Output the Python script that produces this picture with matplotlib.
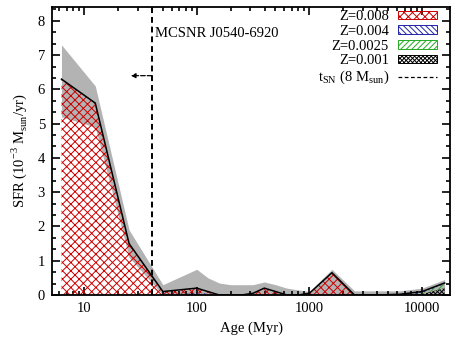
import numpy as np
import matplotlib
matplotlib.use('Agg')
import matplotlib.pyplot as plt
from matplotlib.patches import Patch
from matplotlib.lines import Line2D
from matplotlib.ticker import MultipleLocator, LogLocator, NullFormatter, FixedLocator

plt.rcParams['font.family'] = ['Liberation Serif', 'DejaVu Serif']
plt.rcParams['mathtext.fontset'] = 'custom'
plt.rcParams['mathtext.rm'] = 'Liberation Serif'
plt.rcParams['hatch.linewidth'] = 0.7

# log(age/yr) bins
log_age = [6.8, 7.1, 7.4, 7.7, 8.0, 8.1, 8.2, 8.3, 8.4, 8.5, 8.6, 8.7, 8.8, 8.9,
           9.0, 9.2, 9.4, 9.6, 9.8, 10.0, 10.2]
# SFR per metallicity (10^-3 Msun/yr)
z008 = [6.3, 5.6, 1.5, 0.08, 0.15, 0.05, 0, 0, 0, 0.03, 0.18, 0.08, 0, 0,
        0.03, 0.65, 0, 0, 0, 0, 0]
z004 = [0, 0, 0, 0.02, 0.05, 0.05, 0, 0, 0, 0.02, 0.02, 0.02, 0, 0,
        0.02, 0, 0, 0, 0.02, 0.05, 0.03]
z0025 = [0, 0, 0, 0, 0, 0, 0, 0, 0, 0, 0, 0, 0, 0,
         0, 0, 0, 0, 0, 0.02, 0.12]
z001 = [0, 0, 0, 0, 0, 0, 0, 0, 0, 0, 0, 0, 0, 0,
        0, 0, 0, 0, 0, 0.03, 0.2]
# error band
sfr_lo = [5.2, 4.9, 1.1, 0, 0, 0, 0, 0, 0, 0, 0, 0, 0, 0,
          0, 0, 0, 0, 0, 0, 0]
sfr_hi = [7.3, 6.1, 1.9, 0.3, 0.75, 0.5, 0.35, 0.3, 0.3, 0.3, 0.38, 0.3, 0.2, 0.15,
          0.1, 0.75, 0.12, 0.12, 0.12, 0.2, 0.45]

t_sn = 40.0   # Myr

age = 10**(np.array(log_age) - 6)
s1 = np.array(z001)
s2 = s1 + np.array(z0025)
s3 = s2 + np.array(z004)
s4 = s3 + np.array(z008)

fig = plt.figure(figsize=(4.53, 3.40), dpi=100)
ax = fig.add_axes([0.1148, 0.1324, 0.8786, 0.8466])

ax.fill_between(age, sfr_lo, sfr_hi, color='#b3b3b3', lw=0, zorder=1)
ax.fill_between(age, 0, s1, facecolor='none', edgecolor='black', hatch='xxxxxxxx', lw=0, zorder=2)
ax.fill_between(age, s1, s2, facecolor='none', edgecolor='#22aa22', hatch='//////', lw=0, zorder=2)
ax.fill_between(age, s2, s3, facecolor='none', edgecolor='#2222aa', hatch='\\\\\\\\\\\\', lw=0, zorder=2)
ax.fill_between(age, s3, s4, facecolor='none', edgecolor='#cc0000', hatch='xxxx', lw=0, zorder=2)
ax.plot(age, s4, color='black', lw=1.1, zorder=3)

ax.axvline(t_sn, color='black', ls=(0, (3, 2)), lw=1.4, zorder=4)
ax.annotate('', xy=(26, 6.4), xytext=(t_sn, 6.4),
            arrowprops=dict(arrowstyle='-|>', ls='--', lw=0.9, color='black',
                            mutation_scale=7, shrinkA=0, shrinkB=0))
ax.text(43, 7.62, 'MCSNR J0540-6920', fontsize=10.5, va='center', ha='left')

ax.set_xscale('log')
ax.set_xlim(5.2, 17700)
ax.set_ylim(0, 8.4)
ax.xaxis.set_major_locator(FixedLocator([10, 100, 1000, 10000]))
ax.xaxis.set_major_formatter(matplotlib.ticker.FuncFormatter(lambda v, p: '%d' % v))
ax.xaxis.set_minor_locator(LogLocator(base=10, subs=np.arange(2, 10)))
ax.xaxis.set_minor_formatter(NullFormatter())
ax.yaxis.set_major_locator(MultipleLocator(1))
ax.yaxis.set_minor_locator(MultipleLocator(1 / 3))
ax.tick_params(which='both', direction='in', top=True, right=True, labelsize=10.5, width=1.2)
ax.tick_params(which='major', length=6, pad=5)
ax.tick_params(which='minor', length=3)
for sp in ax.spines.values():
    sp.set_linewidth(1.3)

ax.set_xlabel('Age (Myr)', fontsize=10.5, labelpad=5)
ax.set_ylabel('SFR (10$^{-3}$ M$_{\\rm sun}$/yr)', fontsize=10.5, labelpad=6)

handles = [
    Patch(facecolor='none', edgecolor='#cc0000', hatch='xxxx', lw=0.7),
    Patch(facecolor='none', edgecolor='#2222aa', hatch='\\\\\\\\\\\\', lw=0.7),
    Patch(facecolor='none', edgecolor='#22aa22', hatch='//////', lw=0.7),
    Patch(facecolor='none', edgecolor='black', hatch='xxxxxxxx', lw=0.7),
    Line2D([], [], color='black', ls=(0, (3, 2)), lw=0.9),
]
labels = ['Z=0.008', 'Z=0.004', 'Z=0.0025', 'Z=0.001', 't$_{\\rm SN}$ (8 M$_{\\rm sun}$)']
ax.legend(handles, labels, loc='upper right', bbox_to_anchor=(0.975, 1.0),
          frameon=False, markerfirst=False,
          fontsize=10.5, handlelength=2.7, handleheight=0.5, labelspacing=0.12,
          handletextpad=0.6, borderaxespad=0.0, borderpad=0.2)

fig.savefig('out.png', dpi=100)
